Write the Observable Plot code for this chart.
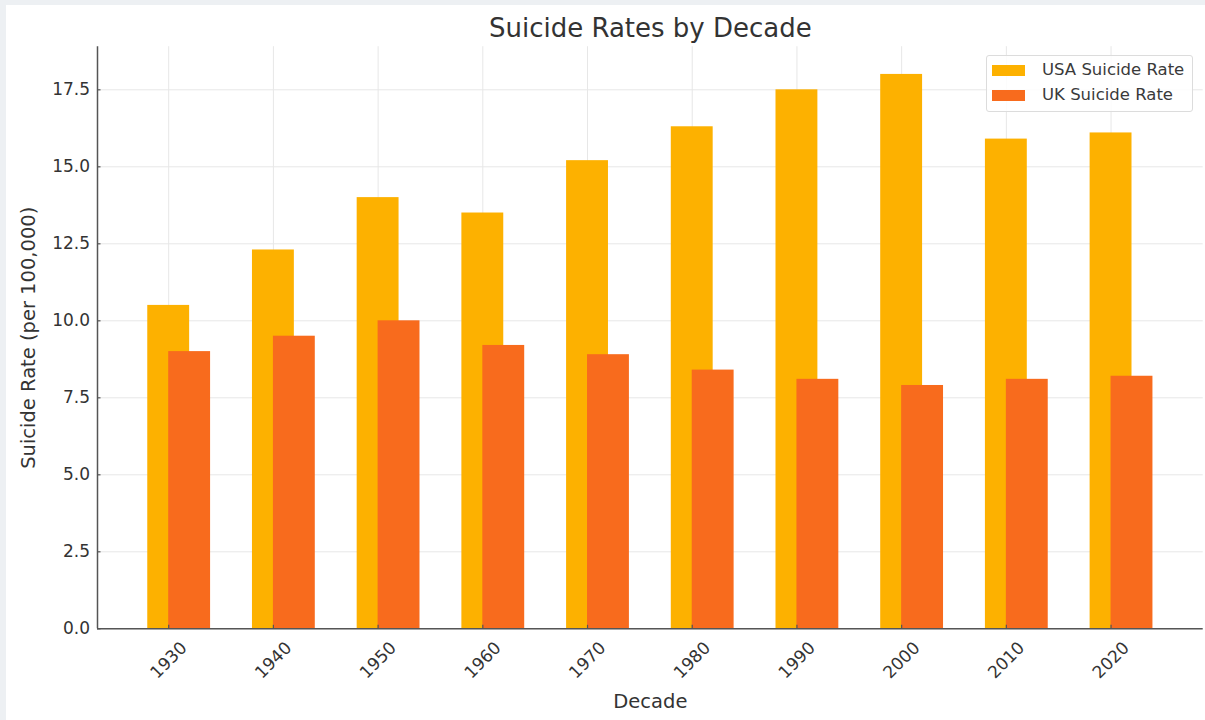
<!DOCTYPE html>
<html>
<head>
<meta charset="utf-8">
<script src="https://cdn.jsdelivr.net/npm/d3@7"></script>
<script src="https://cdn.jsdelivr.net/npm/@observablehq/plot@0.6"></script>
<style>
  html, body { margin: 0; padding: 0; background: #fff; }
  #chart { position: relative; width: 1205px; height: 720px; background: #fff; overflow: hidden;
           font-family: "DejaVu Sans", sans-serif; }
  .band-top { position: absolute; left: 0; top: 0; width: 1205px; height: 5px; background: #edf0f3; }
  .band-left { position: absolute; left: 0; top: 0; width: 6px; height: 720px; background: #edf0f3; }
  #chart svg { position: absolute; left: 0; top: 0; }
  #legend { position: absolute; left: 986px; top: 55px; width: 207px; height: 57px; box-sizing: border-box;
            border: 1px solid #dcdcdc; border-radius: 3px; background: rgba(255,255,255,0.85); }
  #legend .sw { position: absolute; left: 5px; width: 33px; height: 11px; }
  #legend .lb { position: absolute; left: 55px; font-size: 16.5px; color: #3a3a3a; line-height: 20px; white-space: nowrap; }
</style>
</head>
<body>
<div id="chart">
  <div class="band-top"></div>
  <div class="band-left"></div>
</div>
<script>
// Suicide rates per 100,000 by decade
const decades = [1930, 1940, 1950, 1960, 1970, 1980, 1990, 2000, 2010, 2020];
const usaRate = [10.5, 12.3, 14.0, 13.5, 15.2, 16.3, 17.5, 18.0, 15.9, 16.1];
const ukRate  = [9.0, 9.5, 10.0, 9.2, 8.9, 8.4, 8.1, 7.9, 8.1, 8.2];
const seriesNames  = ["USA Suicide Rate", "UK Suicide Rate"];
const seriesColors = ["#fdb100", "#f86b1d"];
const yTicks = [0, 2.5, 5, 7.5, 10, 12.5, 15, 17.5];
const titleText = "Suicide Rates by Decade";
const xLabel = "Decade";
const yLabel = "Suicide Rate (per 100,000)";

// Layout
const W = 1205, H = 720;
const mt = 46.2, mb = 91.7, ml = 97, mr = 2.3;
const innerW = W - ml - mr, innerH = H - mt - mb;
const barW = 4;          // bar width in years
const ukShift = 2;       // UK bar offset from the decade tick, in years

const usaRows = decades.map((d, i) => ({decade: d, series: seriesNames[0], rate: usaRate[i]}));
const ukRows  = decades.map((d, i) => ({decade: d, series: seriesNames[1], rate: ukRate[i]}));

// Axis extents with a 5% pad around the bars
const lo = decades[0] - barW / 2, hi = decades[decades.length - 1] + ukShift + barW / 2;
const pad = 0.05 * (hi - lo);
const xDomain = [lo - pad, hi + pad];
const yMax = d3.max([...usaRate, ...ukRate]) * 1.05;

const axisColor = "#555";
const gridColor = "#e7e7e7";

const chart = Plot.plot({
  width: W, height: H,
  marginTop: mt, marginBottom: mb, marginLeft: ml, marginRight: mr,
  style: {fontFamily: '"DejaVu Sans", sans-serif', fontSize: "17px", color: "#333", background: "transparent", overflow: "visible"},
  x: {type: "linear", domain: xDomain},
  y: {domain: [0, yMax]},
  color: {domain: seriesNames, range: seriesColors},
  marks: [
    Plot.gridY(yTicks, {stroke: gridColor, strokeOpacity: 1, strokeWidth: 1}),
    Plot.gridX(decades, {stroke: gridColor, strokeOpacity: 1, strokeWidth: 1}),
    Plot.rectY(usaRows, {x1: d => d.decade - barW / 2, x2: d => d.decade + barW / 2, y: "rate", fill: "series"}),
    Plot.rectY(ukRows, {x1: d => d.decade + ukShift - barW / 2, x2: d => d.decade + ukShift + barW / 2, y: "rate", fill: "series"}),
    // spines
    Plot.ruleY([0], {stroke: axisColor, strokeWidth: 1.5}),
    Plot.ruleX([xDomain[0]], {stroke: axisColor, strokeWidth: 1.5}),
    // short inward ticks
    Plot.tickY(yTicks, {y: d => d, insetRight: innerW - 3.5, stroke: axisColor, strokeWidth: 1.2}),
    Plot.tickX(decades, {x: d => d, insetTop: innerH - 3.5, stroke: axisColor, strokeWidth: 1.2}),
    // tick labels
    Plot.axisY({ticks: yTicks, tickSize: 0, tickPadding: 7.5, tickFormat: d3.format(".1f"), label: null, fontSize: 17, fill: "#333"}),
    Plot.axisX({ticks: decades, tickSize: 0, tickRotate: -45, textAnchor: "middle", lineAnchor: "middle",
                tickPadding: 31.5, tickFormat: d => String(d), label: null, fontSize: 17, fill: "#333"}),
    // axis titles and chart title
    Plot.text([yLabel], {text: d => d, frameAnchor: "left", dx: -68.5, rotate: -90, textAnchor: "middle", lineAnchor: "middle", fontSize: 19.5, fill: "#333"}),
    Plot.text([xLabel], {text: d => d, frameAnchor: "bottom", dy: 73, lineAnchor: "middle", fontSize: 19.5, fill: "#333"}),
    Plot.text([titleText], {text: d => d, frameAnchor: "top", dy: -18, lineAnchor: "middle", fontSize: 26, fill: "#333"})
  ]
});

const host = document.getElementById("chart");
host.appendChild(chart);

// Legend box, top right
const legend = document.createElement("div");
legend.id = "legend";
seriesNames.forEach((name, i) => {
  const sw = document.createElement("div");
  sw.className = "sw";
  sw.style.top = (9 + i * 25) + "px";
  sw.style.background = seriesColors[i];
  const lb = document.createElement("div");
  lb.className = "lb";
  lb.style.top = (4 + i * 25) + "px";
  lb.textContent = name;
  legend.appendChild(sw);
  legend.appendChild(lb);
});
host.appendChild(legend);
</script>
</body>
</html>
